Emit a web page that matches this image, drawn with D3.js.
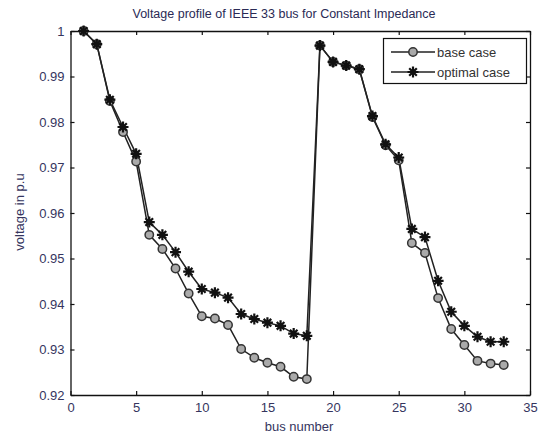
<!DOCTYPE html>
<html><head><meta charset="utf-8">
<script src="https://cdn.jsdelivr.net/npm/d3@7"></script>
<style>body{margin:0;background:#fff}svg{display:block}</style>
</head><body><svg id="c" width="544" height="436"></svg>
<script>
const buses = d3.range(1, 34);
const baseCase = [1.0,0.9971,0.9846,0.9778,0.9713,0.9552,0.9521,0.9478,0.9423,0.9373,0.9368,0.9354,0.9301,0.9282,0.9271,0.9262,0.9240,0.9235,
  0.9968,0.9932,0.9924,0.9916,0.9811,0.9749,0.9716,0.9534,0.9512,0.9413,0.9345,0.9310,0.9275,0.9269,0.9266];
const optimalCase = [1.0,0.9971,0.9849,0.9789,0.9730,0.9580,0.9552,0.9514,0.9471,0.9433,0.9425,0.9414,0.9378,0.9367,0.9359,0.9352,0.9335,0.9330,
  0.9968,0.9932,0.9924,0.9916,0.9813,0.9751,0.9722,0.9565,0.9547,0.9451,0.9383,0.9352,0.9328,0.9317,0.9317];
const xTicks = [0,5,10,15,20,25,30,35];
const yTicks = [0.92,0.93,0.94,0.95,0.96,0.97,0.98,0.99,1];
const seriesNames = ["base case","optimal case"];
const title = "Voltage profile of IEEE 33 bus for Constant Impedance";

const svg = d3.select("#c");
const x = d3.scaleLinear().domain([0,35]).range([70.5,530]);
const y = d3.scaleLinear().domain([0.92,1]).range([395,31]);
const font = "Liberation Sans, Arial, sans-serif";
const txtCol = "#35355e";

const fmtY = d => d === 1 ? "1" : d3.format(".2f")(d);
svg.append("g").attr("transform","translate(0,395)")
  .call(d3.axisBottom(x).tickValues(xTicks).tickSize(-4).tickPadding(8).tickSizeOuter(0))
  .call(g=>{g.select(".domain").attr("stroke","#111").attr("stroke-width",1.3);
    g.selectAll("line").attr("stroke","#111").attr("stroke-width",1.2);
    g.selectAll("text").attr("font-family",font).attr("font-size",13).attr("fill",txtCol);});
svg.append("g").attr("transform","translate(0,31)")
  .call(d3.axisTop(x).tickValues(xTicks).tickSize(-4).tickFormat("").tickSizeOuter(0))
  .call(g=>{g.select(".domain").attr("stroke","#111").attr("stroke-width",1.3);
    g.selectAll("line").attr("stroke","#111").attr("stroke-width",1.2);});
svg.append("g").attr("transform","translate(70.5,0)")
  .call(d3.axisLeft(y).tickValues(yTicks).tickSize(-4).tickPadding(6).tickFormat(fmtY).tickSizeOuter(0))
  .call(g=>{g.select(".domain").attr("stroke","#111").attr("stroke-width",1.3);
    g.selectAll("line").attr("stroke","#111").attr("stroke-width",1.2);
    g.selectAll("text").attr("font-family",font).attr("font-size",13).attr("fill",txtCol);});
svg.append("g").attr("transform","translate(530,0)")
  .call(d3.axisRight(y).tickValues(yTicks).tickSize(-4).tickFormat("").tickSizeOuter(0))
  .call(g=>{g.select(".domain").attr("stroke","#111").attr("stroke-width",1.3);
    g.selectAll("line").attr("stroke","#111").attr("stroke-width",1.2);});

svg.append("text").attr("x",284).attr("y",18).attr("text-anchor","middle")
  .attr("font-family",font).attr("font-size",12.5).attr("fill","#2a2a55").text(title);
svg.append("text").attr("x",299).attr("y",431).attr("text-anchor","middle")
  .attr("font-family",font).attr("font-size",13).attr("fill",txtCol).text("bus number");
svg.append("text").attr("transform","translate(24,212) rotate(-90)").attr("text-anchor","middle")
  .attr("font-family",font).attr("font-size",13).attr("fill",txtCol).text("voltage in p.u");

const line = d3.line().x((d,i)=>x(buses[i])).y(d=>y(d));
const lineCol = "#222";
svg.append("path").datum(baseCase).attr("d",line).attr("fill","none").attr("stroke",lineCol).attr("stroke-width",1.5);
svg.append("path").datum(optimalCase).attr("d",line).attr("fill","none").attr("stroke",lineCol).attr("stroke-width",1.5);

function circleMark(g, cx, cy){
  g.append("circle").attr("cx",cx).attr("cy",cy).attr("r",4.2)
   .attr("fill","#aaa").attr("stroke","#333").attr("stroke-width",1.5);
}
function starMark(g, cx, cy){
  const r = 5.5, r2 = 3.8;
  let p = `M${cx-r},${cy}L${cx+r},${cy}M${cx},${cy-r}L${cx},${cy+r}`;
  p += `M${cx-r2},${cy-r2}L${cx+r2},${cy+r2}M${cx-r2},${cy+r2}L${cx+r2},${cy-r2}`;
  g.append("path").attr("d",p).attr("stroke","#111").attr("stroke-width",2.2).attr("fill","none");
}
const gm = svg.append("g");
baseCase.forEach((v,i)=>circleMark(gm, x(buses[i]), y(v)));
optimalCase.forEach((v,i)=>starMark(gm, x(buses[i]), y(v)));

const lg = svg.append("g");
lg.append("rect").attr("x",383.5).attr("y",38.5).attr("width",143).attr("height",45)
  .attr("fill","#fff").attr("stroke","#111").attr("stroke-width",1.2);
const rows = [52,72];
seriesNames.forEach((n,i)=>{
  lg.append("line").attr("x1",391).attr("x2",435).attr("y1",rows[i]).attr("y2",rows[i])
    .attr("stroke",lineCol).attr("stroke-width",1.5);
  if(i===0) circleMark(lg,413,rows[i]); else starMark(lg,413,rows[i]);
  lg.append("text").attr("x",437).attr("y",rows[i]+4.5).attr("font-family",font)
    .attr("font-size",13).attr("fill","#333").text(n);
});
</script></body></html>
